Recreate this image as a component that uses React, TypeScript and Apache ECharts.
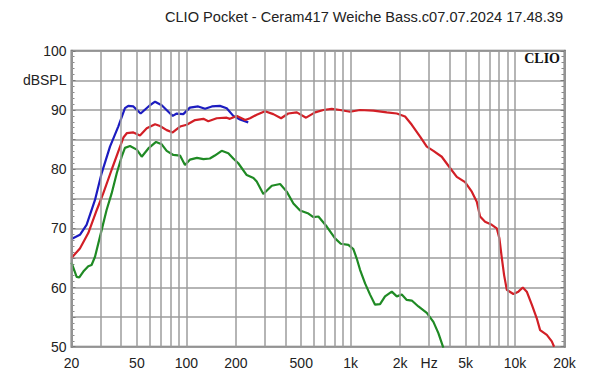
import React, { useEffect, useRef } from 'react';
import * as echarts from 'echarts';

// Frequency (Hz) / level (dBSPL) pairs
const blueFreq = [20, 22.5, 24.7, 27.8, 30.5, 34.3, 38.5, 42.3, 44.3, 47.6, 52.7, 60, 64.5, 70.8, 77.7, 82.6, 87.4, 95.8, 105, 118, 130, 143, 160, 176, 193, 212, 238];
const blueDb = [68.2, 68.9, 70.6, 74.8, 79.3, 83.8, 87.2, 90.3, 90.7, 90.6, 89.4, 90.8, 91.4, 90.8, 89.7, 89.0, 89.4, 89.3, 90.4, 90.6, 90.2, 90.6, 90.7, 90.3, 89.0, 88.4, 87.9];

const redFreq = [20, 22.5, 25.3, 28.5, 31.2, 35.1, 39.5, 41.5, 43.5, 47.6, 52.2, 57.4, 64.5, 69.1, 75.9, 82.6, 91.5, 100.5, 113, 127, 136, 153, 176, 184, 203, 228, 244, 268, 301, 338, 377, 417, 470, 535, 607, 682, 767, 862, 991, 1140, 1374, 1658, 1907, 2142, 2354, 2644, 2904, 3186, 3582, 4024, 4422, 4966, 5457, 5852, 6128, 6572, 7219, 7740, 8034, 8308, 8580, 8912, 9773, 10480, 11150, 11790, 12650, 13560, 14210, 15610, 16740, 17290];
const redDb = [65.0, 66.6, 69.2, 73.1, 75.9, 79.9, 83.8, 85.4, 86.1, 86.2, 85.7, 86.9, 87.6, 87.3, 86.6, 86.2, 87.2, 87.5, 88.3, 88.5, 88.1, 88.6, 88.7, 88.5, 89.0, 88.3, 88.6, 89.2, 89.8, 89.3, 88.6, 89.4, 89.6, 88.7, 89.6, 90.0, 90.2, 90.0, 89.7, 90.0, 89.9, 89.6, 89.4, 88.9, 87.5, 85.5, 83.8, 83.1, 82.1, 80.2, 78.7, 77.8, 76.2, 74.5, 72.0, 71.1, 70.6, 70.0, 68.3, 65.0, 62.1, 59.6, 58.9, 59.3, 60.0, 59.3, 57.1, 54.8, 52.8, 52.0, 50.9, 50.0];

const greenFreq = [20, 21.5, 22.3, 23.6, 25.3, 26.5, 27.8, 30.5, 32.7, 35.1, 37.7, 40.4, 42.3, 45.4, 49.9, 53.5, 58.7, 65.4, 70.8, 75.9, 83.3, 91.5, 98.1, 105, 116, 127, 139, 149, 164, 180, 193, 207, 233, 256, 268, 294, 331, 372, 408, 448, 492, 553, 593, 636, 715, 803, 870, 968, 1038, 1088, 1140, 1223, 1312, 1407, 1509, 1618, 1778, 1907, 2045, 2193, 2354, 2582, 2904, 3186, 3416, 3664];
const greenDb = [64.2, 61.8, 61.7, 62.7, 63.6, 63.8, 65.2, 69.7, 73.1, 75.9, 79.3, 82.1, 83.6, 83.9, 83.3, 82.1, 83.5, 84.6, 84.2, 83.1, 82.4, 82.3, 80.7, 81.6, 81.9, 81.7, 81.8, 82.3, 83.1, 82.7, 81.8, 81.0, 79.0, 78.5, 77.9, 75.8, 77.2, 77.5, 76.2, 74.2, 73.0, 72.5, 71.9, 72.0, 70.3, 68.3, 67.4, 67.2, 66.5, 64.9, 63.0, 60.7, 58.8, 57.1, 57.2, 58.5, 59.3, 58.5, 58.8, 57.9, 57.8, 56.8, 55.7, 54.2, 52.3, 49.8];

// Log grid lines and x tick labels
const gridFreqs = [20, 30, 40, 50, 60, 70, 80, 90, 100, 200, 300, 400, 500, 600, 700, 800, 900, 1000, 2000, 3000, 4000, 5000, 6000, 7000, 8000, 9000, 10000, 20000];
const xLabelFreqs = [20, 50, 100, 200, 500, 1000, 2000, 3000, 5000, 10000, 20000];
const xLabelTexts = ['20', '50', '100', '200', '500', '1k', '2k', 'Hz', '5k', '10k', '20k'];

const yLabelMap: Record<number, string> = { 100: '100', 95: 'dBSPL', 90: '90', 80: '80', 70: '70', 60: '60', 50: '50' };

const titleText = 'CLIO Pocket - Ceram417 Weiche Bass.c07.07.2024 17.48.39';

const FONT = '"Liberation Sans", Arial, sans-serif';
const GRID_COLOR = '#9c9c9c';
const BORDER_COLOR = '#7a7a7a';

export default function App() {
  const ref = useRef<HTMLDivElement>(null);

  useEffect(() => {
    const chart = echarts.init(ref.current!, null, { renderer: 'svg' });
    const zip = (f: number[], d: number[]) => f.map((v, i) => [v, d[i]]);

    const lineData = gridFreqs.map((f) => {
      const li = xLabelFreqs.indexOf(f);
      return {
        xAxis: f,
        label: li >= 0
          ? { show: true, formatter: xLabelTexts[li] }
          : { show: false },
      };
    });

    chart.setOption({
      animation: false,
      backgroundColor: '#ffffff',
      grid: {
        left: 71.5,
        right: 35.5,
        top: 50.8,
        bottom: 37.3,
        show: true,
        borderColor: BORDER_COLOR,
        borderWidth: 2,
        backgroundColor: 'transparent',
      },
      xAxis: {
        type: 'log',
        logBase: 10,
        min: 20,
        max: 20000,
        axisLine: { show: false },
        axisTick: { show: false },
        axisLabel: { show: false },
        splitLine: { show: false },
      },
      yAxis: [
        {
          type: 'value',
          min: 50,
          max: 100,
          interval: 5,
          position: 'left',
          axisLine: { show: true, lineStyle: { color: BORDER_COLOR, width: 2 } },
          axisTick: { show: true, inside: true, length: 4, lineStyle: { color: BORDER_COLOR } },
          minorTick: { show: true, splitNumber: 5, length: 3, lineStyle: { color: '#8a8a8a' } },
          splitLine: { show: true, lineStyle: { color: GRID_COLOR, width: 1.5 } },
          axisLabel: {
            formatter: (v: number) => yLabelMap[Math.round(v)] ?? '',
            color: '#222',
            fontSize: 14,
            fontFamily: FONT,
            margin: 5,
          },
        },
        {
          type: 'value',
          min: 50,
          max: 100,
          interval: 5,
          position: 'right',
          axisLine: { show: true, lineStyle: { color: BORDER_COLOR, width: 2 } },
          axisTick: { show: true, inside: true, length: 4, lineStyle: { color: BORDER_COLOR } },
          minorTick: { show: true, splitNumber: 5, length: 3, lineStyle: { color: '#8a8a8a' } },
          splitLine: { show: false },
          axisLabel: { show: false },
        },
      ],
      series: [
        {
          type: 'line',
          data: [],
          silent: true,
          z: 1,
          markLine: {
            silent: true,
            symbol: ['none', 'none'],
            animation: false,
            lineStyle: { color: GRID_COLOR, width: 1.5, type: 'solid' },
            emphasis: { disabled: true },
            label: {
              show: false,
              position: 'start',
              distance: 9,
              color: '#222',
              fontSize: 14,
              fontFamily: FONT,
            },
            data: lineData,
          },
        },
        {
          name: 'green',
          type: 'line',
          data: zip(greenFreq, greenDb),
          showSymbol: false,
          symbol: 'none',
          z: 3,
          lineStyle: { color: '#1f8a24', width: 2.2 },
        },
        {
          name: 'red',
          type: 'line',
          data: zip(redFreq, redDb),
          showSymbol: false,
          symbol: 'none',
          z: 4,
          lineStyle: { color: '#d21f26', width: 2.2 },
        },
        {
          name: 'blue',
          type: 'line',
          data: zip(blueFreq, blueDb),
          showSymbol: false,
          symbol: 'none',
          z: 3,
          lineStyle: { color: '#1c1cc0', width: 2.2 },
        },
      ],
      graphic: [
        {
          type: 'text',
          right: 37,
          top: 9,
          style: {
            text: titleText,
            fontSize: 14.6,
            fontFamily: FONT,
            fill: '#222',
          },
        },
        {
          type: 'text',
          right: 40,
          top: 51,
          z: 10,
          style: {
            text: 'CLIO',
            fontSize: 14,
            fontWeight: 'bold',
            fontFamily: '"Liberation Serif", "Times New Roman", serif',
            fill: '#111',
          },
        },
      ],
    });

    return () => chart.dispose();
  }, []);

  return (
    <div
      ref={ref}
      style={{ position: 'fixed', left: 0, top: 0, width: 600, height: 384, background: '#fff' }}
    />
  );
}
